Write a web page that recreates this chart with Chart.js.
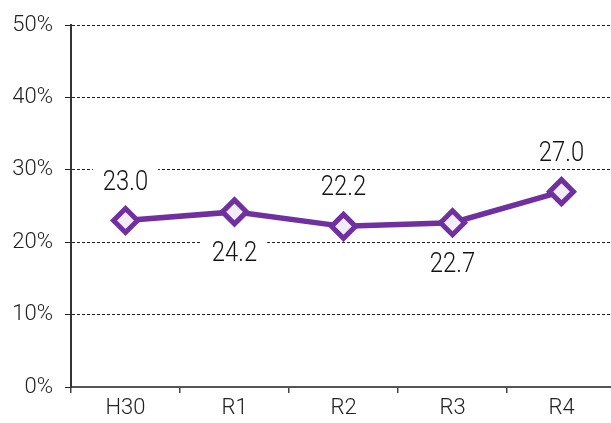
<!DOCTYPE html>
<html>
<head>
<meta charset="utf-8">
<script src="https://cdn.jsdelivr.net/npm/chart.js@4/dist/chart.umd.min.js"></script>
<style>
html,body{margin:0;padding:0;background:#fff;overflow:hidden;}
#wrap{width:611px;height:423px;overflow:hidden;position:relative;}
#c{display:block;}
</style>
</head>
<body>
<div id="wrap"><canvas id="c" width="633" height="423"></canvas></div>
<script>
const categories = ["H30", "R1", "R2", "R3", "R4"];
const values = [23.0, 24.2, 22.2, 22.7, 27.0];
const labelSides = ["above", "below", "above", "below", "above"];
const yTicks = [0, 10, 20, 30, 40, 50];

const FONT = 'Roboto, "Noto Sans", sans-serif';

const labelPlugin = {
  id: 'valueLabels',
  afterDatasetsDraw(chart) {
    const ctx = chart.ctx;
    const meta = chart.getDatasetMeta(0);
    ctx.save();
    ctx.font = '300 28px ' + FONT;
    ctx.textAlign = 'center';
    ctx.textBaseline = 'middle';
    meta.data.forEach((pt, i) => {
      const txt = values[i].toFixed(1);
      const off = labelSides[i] === 'above' ? -39 : 41;
      const x = pt.x, y = pt.y + off;
      const w = ctx.measureText(txt).width * 0.85 + 20;
      const h = 28;
      ctx.fillStyle = '#ffffff';
      ctx.fillRect(x - w / 2, y - h / 2, w, h);
      ctx.save();
      ctx.translate(x, y + 1);
      ctx.scale(0.85, 1);
      ctx.fillStyle = '#111111';
      ctx.fillText(txt, 0, 0);
      ctx.restore();
    });
    ctx.restore();
  }
};

new Chart(document.getElementById('c'), {
  type: 'line',
  data: {
    labels: categories,
    datasets: [{
      data: values,
      borderColor: '#7030A0',
      borderWidth: 5.5,
      backgroundColor: '#F1ECF6',
      pointStyle: 'rectRot',
      pointRadius: 12,
      pointBorderWidth: 5,
      pointBackgroundColor: '#F1ECF6',
      pointBorderColor: '#7030A0',
      tension: 0,
      fill: false
    }]
  },
  options: {
    responsive: false,
    animation: false,
    devicePixelRatio: 1,
    layout: { padding: { top: 22, left: 0, right: 0, bottom: 0 } },
    plugins: { legend: { display: false }, tooltip: { enabled: false } },
    scales: {
      x: {
        offset: true,
        grid: { offset: true, drawOnChartArea: false, drawTicks: true, tickLength: 6, color: '#444', lineWidth: 1.5 },
        border: { color: '#555', width: 2 },
        ticks: { color: '#222', font: { family: FONT, size: 22, weight: 300 }, padding: 2 },
        afterFit(s) { s.height = 36; }
      },
      y: {
        min: 0, max: 50,
        afterBuildTicks(s) { s.ticks = yTicks.map(v => ({ value: v })); },
        grid: { color: '#222', lineWidth: 1, tickLength: 6, tickBorderDash: [], tickColor: '#222' },
        border: { color: '#333', width: 2, dash: [3, 2] },
        ticks: { color: '#222', font: { family: FONT, size: 22, weight: 300 }, padding: 12, callback: v => v + '%' },
        afterFit(s) { s.width = 71; }
      }
    }
  },
  plugins: [labelPlugin]
});
</script>
</body>
</html>
